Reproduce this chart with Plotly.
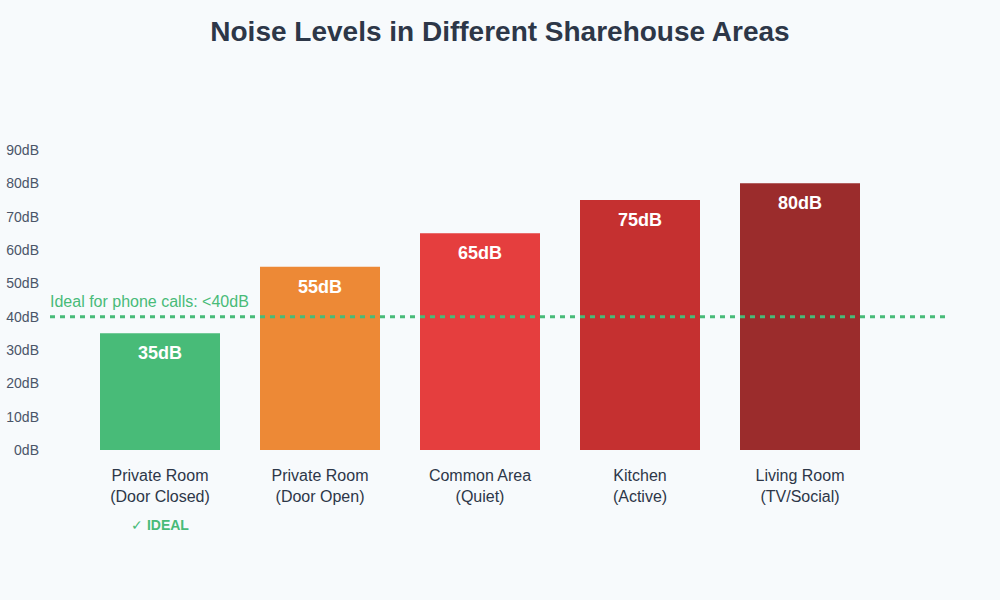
import plotly.graph_objects as go

areas = ["Private Room<br>(Door Closed)", "Private Room<br>(Door Open)",
         "Common Area<br>(Quiet)", "Kitchen<br>(Active)", "Living Room<br>(TV/Social)"]
noise_db = [35, 55, 65, 75, 80]
bar_colors = ["#48bb78", "#ed8936", "#e53e3e", "#c53030", "#9b2c2c"]
ideal_db = 40
y_ticks = [0, 10, 20, 30, 40, 50, 60, 70, 80, 90]
y_tick_text = [f"{v}dB" for v in y_ticks]

x_pos = list(range(len(areas)))

fig = go.Figure(go.Bar(
    x=x_pos, y=noise_db, width=0.75,
    marker=dict(color=bar_colors, line=dict(width=0)),
    hovertemplate="%{y}dB<extra></extra>",
))

for i, v in enumerate(noise_db):
    fig.add_annotation(x=x_pos[i], y=v, text=f"<b>{v}dB</b>", showarrow=False,
                       yanchor="top", yshift=-8,
                       font=dict(family="Liberation Sans, Arial", size=18, color="white"))

fig.add_shape(type="line", xref="paper", x0=0, x1=1, y0=ideal_db, y1=ideal_db,
              line=dict(color="#48bb78", width=3, dash="5px,5px"))
fig.add_annotation(xref="paper", x=0, y=ideal_db, text=f"Ideal for phone calls: &lt;{ideal_db}dB",
                   showarrow=False, xanchor="left", yanchor="bottom", yshift=5, xshift=-2,
                   font=dict(family="Liberation Sans, Arial", size=16, color="#48bb78"))
fig.add_annotation(x=x_pos[0], yref="paper", y=0, text="✓ <b>IDEAL</b>", showarrow=False,
                   yanchor="middle", yshift=-75,
                   font=dict(family="Liberation Sans, Arial", size=14, color="#48bb78"))

fig.update_layout(
    width=1000, height=600,
    paper_bgcolor="#f7fafc", plot_bgcolor="#f7fafc",
    margin=dict(l=50, r=55, t=150, b=150),
    title=dict(text="<b>Noise Levels in Different Sharehouse Areas</b>", x=0.5, y=0.948,
               xanchor="center", yanchor="middle",
               font=dict(family="Liberation Sans, Arial", size=28, color="#2d3748")),
    font=dict(family="Liberation Sans, Arial"),
    showlegend=False,
    xaxis=dict(range=[-0.6875, 4.90625], tickvals=x_pos, ticktext=areas,
               showgrid=False, zeroline=False, showline=False, ticks="",
               ticklabelstandoff=14, automargin=False,
               tickfont=dict(size=16, color="#2d3748"), fixedrange=True),
    yaxis=dict(range=[0, 90], tickvals=y_ticks, ticktext=y_tick_text,
               showgrid=False, zeroline=False, showline=False, ticks="",
               ticklabelstandoff=10, automargin=False,
               tickfont=dict(size=14, color="#4a5568"), fixedrange=True),
)

fig.write_html("out.html", config={"displayModeBar": False},
               post_script="document.body.style.margin='0';")
